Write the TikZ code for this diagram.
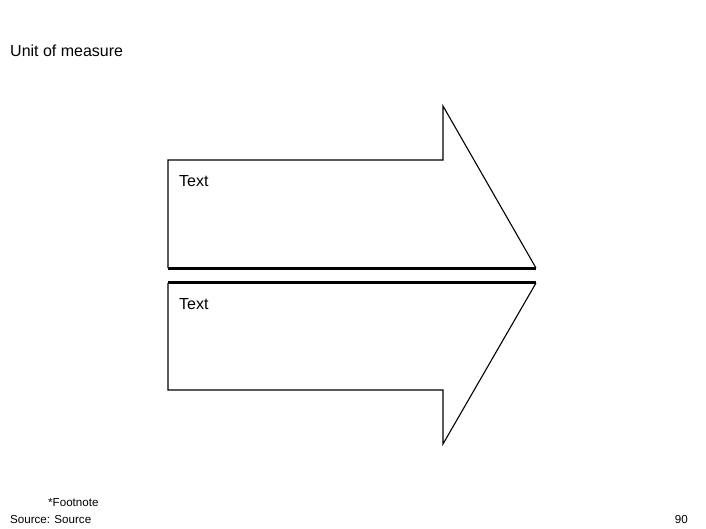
\documentclass[tikz,border=0pt]{standalone}
\usepackage{fontspec}
\setmainfont{Liberation Sans}
\usetikzlibrary{positioning}

\begin{document}
\begin{tikzpicture}[x=1pt,y=-1pt,
  lbl/.style={inner sep=0pt,anchor=base west,font=\fontsize{16}{19}\selectfont},
  small/.style={inner sep=0pt,font=\fontsize{11.6}{14}\selectfont},
  half/.style={draw,line width=1.1pt,line join=miter}]
\useasboundingbox (0,0) rectangle (706,529);

\draw[half] (536,268) -- (443,106) -- (443,160) -- (168,160) -- (168,268);
\draw[line width=3pt] (168,268.5) -- (536,268.5);
\draw[half] (536,283) -- (443,444) -- (443,390) -- (168,390) -- (168,283);
\draw[line width=3pt] (168,282.5) -- (536,282.5);

\node[lbl] (unit) at (10,57) {Unit of measure};
\node[lbl] (txtup) at (179,187) {Text};
\node[lbl] (txtdown) at (179,309) {Text};
\node[small,anchor=base west] (foot) at (48,506) {*Footnote};
\node[small,anchor=base west] (src) at (10,523) {Source: Source};
\node[small,anchor=base east] (page) at (688,523) {90};
\end{tikzpicture}
\end{document}
